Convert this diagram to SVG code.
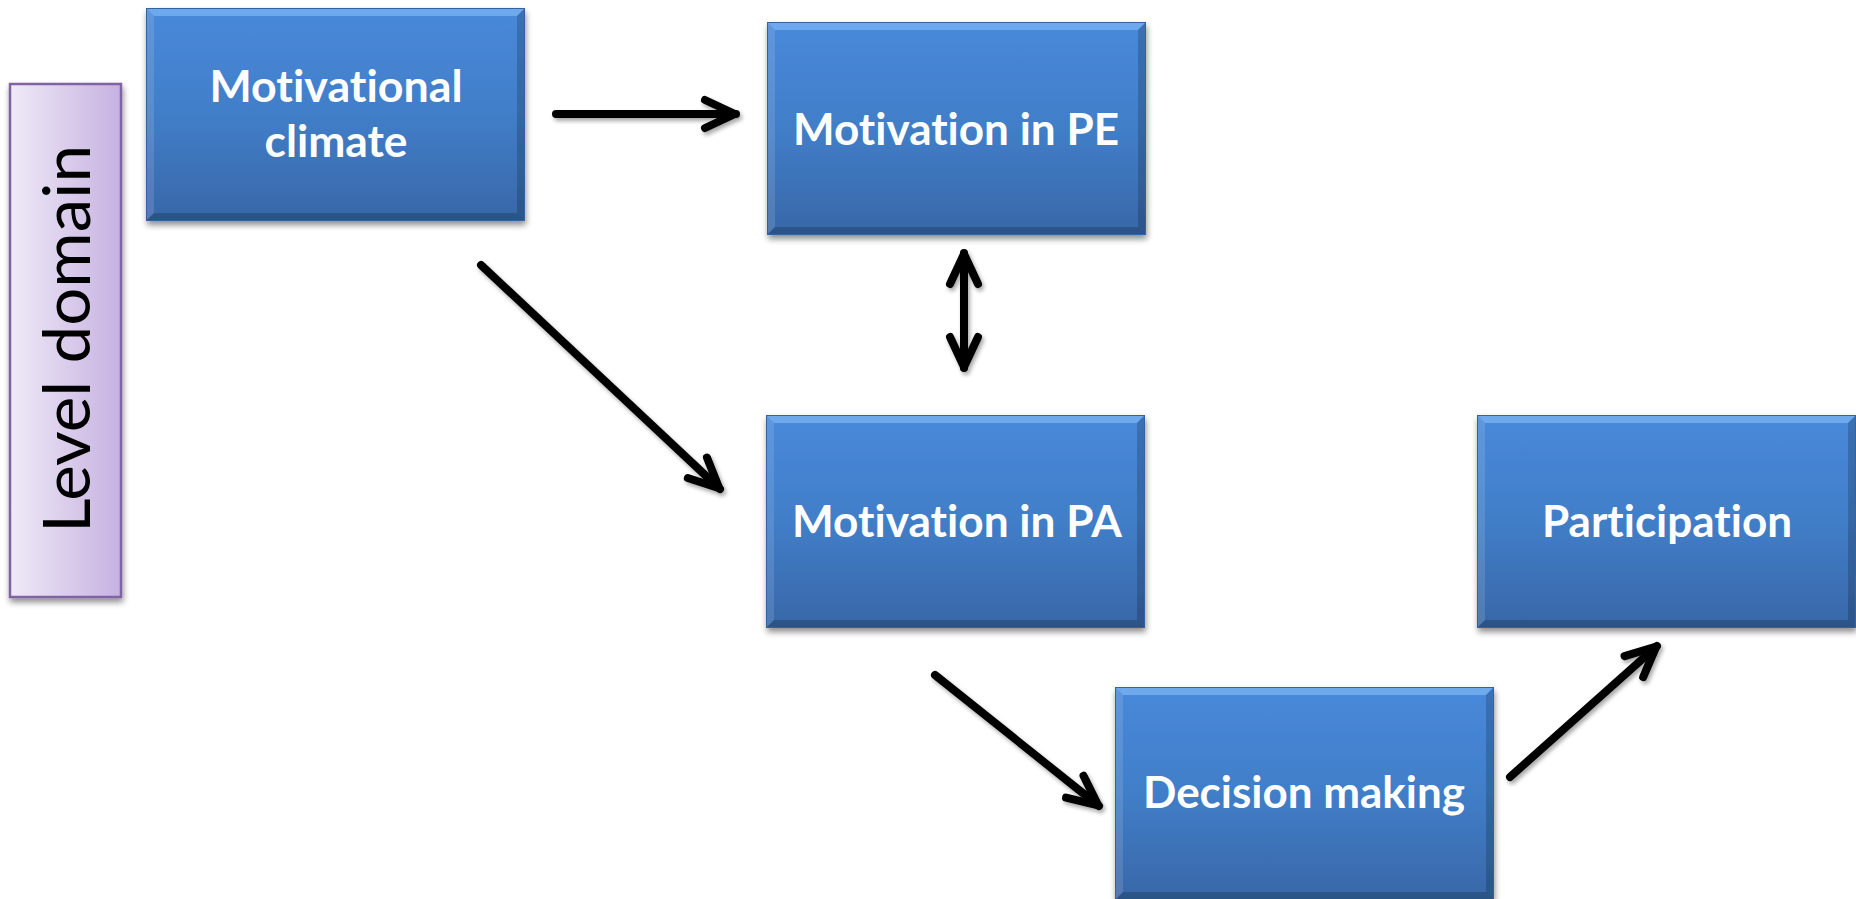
<svg xmlns="http://www.w3.org/2000/svg" xmlns:xlink="http://www.w3.org/1999/xlink" width="1856" height="899" viewBox="0 0 1856 899">
  <style>
    .label { font-family: Lato, "Open Sans", "Liberation Sans", sans-serif; font-weight: 700; font-size: 43px; fill: #ffffff; text-anchor: middle; font-variant-ligatures: none; font-feature-settings: "liga" 0, "clig" 0; }
    .side { font-family: Lato, "Open Sans", "Liberation Sans", sans-serif; font-weight: 400; font-size: 66px; fill: #000000; text-anchor: middle; font-variant-ligatures: none; }
    .conn { fill: none; stroke: #000000; stroke-width: 8; stroke-linecap: round; }
  </style>
  <defs>
    <linearGradient id="blueFill" x1="0" y1="0" x2="0" y2="1">
      <stop offset="0" stop-color="#4889da"/>
      <stop offset="0.5" stop-color="#417ec8"/>
      <stop offset="1" stop-color="#3867a8"/>
    </linearGradient>
    <linearGradient id="lilacFill" x1="0" y1="0" x2="1" y2="0">
      <stop offset="0" stop-color="#efeaf7"/>
      <stop offset="1" stop-color="#c6b1e1"/>
    </linearGradient>
    <filter id="shadow" x="-10%" y="-10%" width="125%" height="130%">
      <feGaussianBlur in="SourceAlpha" stdDeviation="3"/>
      <feOffset dx="1" dy="4" result="b"/>
      <feComponentTransfer><feFuncA type="linear" slope="0.45"/></feComponentTransfer>
      <feMerge><feMergeNode/><feMergeNode in="SourceGraphic"/></feMerge>
    </filter>
    <filter id="lineShadow" x="-20%" y="-20%" width="140%" height="140%">
      <feGaussianBlur in="SourceAlpha" stdDeviation="2"/>
      <feOffset dx="2" dy="3" result="b"/>
      <feComponentTransfer><feFuncA type="linear" slope="0.35"/></feComponentTransfer>
      <feMerge><feMergeNode/><feMergeNode in="SourceGraphic"/></feMerge>
    </filter>
    <!-- bevelled blue box, 379 x 213 -->
    <g id="box">
      <rect x="0" y="0" width="379" height="213" fill="url(#blueFill)"/>
      <polygon points="0,0 379,0 371,8 8,8" fill="#7ab4f2" opacity="0.75"/>
      <polygon points="0,0 8,8 8,205 0,213" fill="#ffffff" opacity="0.12"/>
      <polygon points="379,0 379,213 371,205 371,8" fill="#000000" opacity="0.18"/>
      <polygon points="0,213 8,205 371,205 379,213" fill="#000000" opacity="0.2"/>
      <rect x="0.5" y="0.5" width="378" height="212" fill="none" stroke="#36649f" stroke-width="1"/>
    </g>
    <marker id="head" markerUnits="userSpaceOnUse" orient="auto-start-reverse" refX="0" refY="0" markerWidth="60" markerHeight="60" viewBox="-40 -30 60 60" overflow="visible">
      <path d="M-31,-14 L-1,0 L-31,14" fill="none" stroke="#000000" stroke-width="8" stroke-linecap="round" stroke-linejoin="round"/>
    </marker>
  </defs>

  <rect width="1856" height="899" fill="#ffffff"/>

  <g id="level-domain" filter="url(#shadow)">
    <rect x="10" y="84" width="111" height="513" fill="url(#lilacFill)" stroke="#8064a2" stroke-width="2.5"/>
    <text class="side" transform="translate(90,339) rotate(-90)" textLength="388" lengthAdjust="spacingAndGlyphs">Level domain</text>
  </g>

  <g id="motivational-climate">
    <use xlink:href="#box" x="146" y="8" filter="url(#shadow)"/>
    <text class="label" x="336" y="102" textLength="253" lengthAdjust="spacingAndGlyphs">Motivational</text>
    <text class="label" x="336" y="157" textLength="143" lengthAdjust="spacingAndGlyphs">climate</text>
  </g>

  <g id="motivation-pe">
    <use xlink:href="#box" x="767" y="22" filter="url(#shadow)"/>
    <text class="label" x="956" y="145" textLength="326" lengthAdjust="spacingAndGlyphs">Motivation in PE</text>
  </g>

  <g id="motivation-pa">
    <use xlink:href="#box" x="766" y="415" filter="url(#shadow)"/>
    <text class="label" x="957" y="537" textLength="330" lengthAdjust="spacingAndGlyphs">Motivation in PA</text>
  </g>

  <g id="participation">
    <use xlink:href="#box" x="1477" y="415" filter="url(#shadow)"/>
    <text class="label" x="1667" y="537" textLength="250" lengthAdjust="spacingAndGlyphs">Participation</text>
  </g>

  <g id="decision-making">
    <use xlink:href="#box" x="1115" y="687" filter="url(#shadow)"/>
    <text class="label" x="1304" y="808" textLength="322" lengthAdjust="spacingAndGlyphs">Decision making</text>
  </g>

  <g id="connectors" filter="url(#lineShadow)">
    <line class="conn" x1="556" y1="114" x2="736" y2="114" marker-end="url(#head)"/>
    <line class="conn" x1="481" y1="265" x2="720" y2="489" marker-end="url(#head)"/>
    <line class="conn" x1="964" y1="253" x2="964" y2="368" marker-start="url(#head)" marker-end="url(#head)"/>
    <line class="conn" x1="935" y1="675" x2="1099" y2="806" marker-end="url(#head)"/>
    <line class="conn" x1="1510" y1="777" x2="1657" y2="646" marker-end="url(#head)"/>
  </g>
</svg>
